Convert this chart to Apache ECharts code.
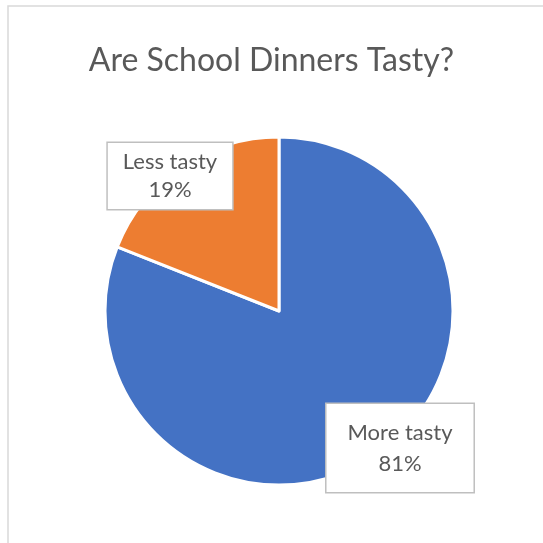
<!DOCTYPE html>
<html>
<head>
<meta charset="utf-8">
<script src="https://cdn.jsdelivr.net/npm/echarts@6/dist/echarts.min.js"></script>
<style>
  html, body { margin: 0; padding: 0; background: #fff; }
  #chart { width: 543px; height: 543px; }
</style>
</head>
<body>
<div id="chart"></div>
<script>
const categories = ['More tasty', 'Less tasty']
const values = [81, 19]
const colors = ['#4472c4', '#ed7d31']

const FONT = 'Lato, "Open Sans", sans-serif'
const TEXT = '#595959'

// label box centres (Excel best-fit placement)
const labelPos = [[400, 448], [170, 176]]
const labelPad = [[13, 21], [5, 15]]
const labelLH = [31, 28]

const chart = echarts.init(document.getElementById('chart'))

const option = {
  animation: false,
  title: {
    text: 'Are School Dinners Tasty?',
    left: 'center',
    top: 40,
    textStyle: { color: TEXT, fontSize: 32, fontWeight: 'normal', fontFamily: FONT }
  },
  graphic: [{
    type: 'rect',
    shape: { x: 8, y: 6, width: 600, height: 600 },
    style: { fill: 'none', stroke: '#d9d9d9', lineWidth: 1.5 },
    silent: true
  }],
  series: [{
    type: 'pie',
    center: [279, 311],
    radius: 174,
    startAngle: 90,
    clockwise: true,
    data: categories.map((name, i) => ({
      name,
      value: values[i],
      itemStyle: { color: colors[i] },
      label: { padding: labelPad[i], lineHeight: labelLH[i] }
    })),
    itemStyle: { borderColor: '#fff', borderWidth: 3 },
    label: {
      show: true,
      position: 'inside',
      formatter: '{b}\n{d}%',
      color: TEXT,
      fontSize: 22,
      fontFamily: FONT,
      align: 'center',
      backgroundColor: '#fff',
      borderColor: '#bfbfbf',
      borderWidth: 1.5
    },
    labelLine: { show: false },
    labelLayout: (params) => ({
      x: labelPos[params.dataIndex][0],
      y: labelPos[params.dataIndex][1]
    }),
    emphasis: { disabled: true }
  }]
}

chart.setOption(option)
window.addEventListener('resize', () => chart.resize())
</script>
</body>
</html>
